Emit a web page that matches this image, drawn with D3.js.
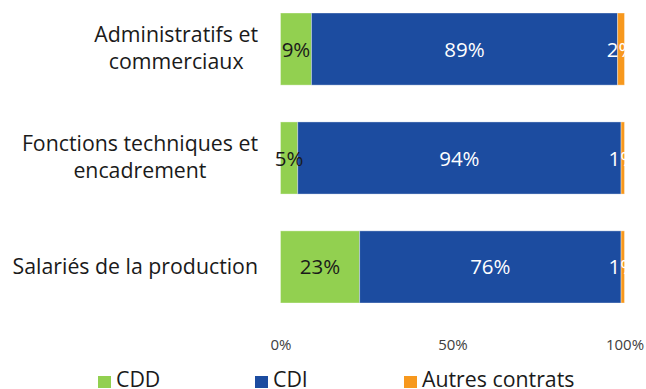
<!DOCTYPE html>
<html>
<head>
<meta charset="utf-8">
<script src="https://cdn.jsdelivr.net/npm/d3@7"></script>
<style>
  html, body { margin: 0; padding: 0; background: #fff; }
  svg { display: block; font-family: "Open Sans", "Noto Sans", sans-serif; }
</style>
</head>
<body>
<svg id="chart" width="646" height="389"></svg>
<script>
// Répartition des contrats par catégorie de salariés (%)
const categories = [
  ["Administratifs et", "commerciaux"],
  ["Fonctions techniques et", "encadrement"],
  ["Salariés de la production"]
];
const seriesNames = ["CDD", "CDI", "Autres contrats"];
const cdd = [9, 5, 23];
const cdi = [89, 94, 76];
const autres = [2, 1, 1];
const tickValues = [0, 50, 100];

const colors = ["#92d050", "#1c4ca0", "#f7981d"];
const labelColors = ["#1a1a1a", "#ffffff", "#ffffff"];

const svg = d3.select("#chart");
const catKeys = categories.map(c => c.join(" "));

const rows = catKeys.map((k, i) => ({ key: k, CDD: cdd[i], CDI: cdi[i], "Autres contrats": autres[i] }));
const stacked = d3.stack().keys(seriesNames)(rows);

const x = d3.scaleLinear().domain([0, 100]).range([280.5, 624.5]);
const y = d3.scaleBand().domain(catKeys).range([-5.4, 321.4])
  .paddingInner(0.338).paddingOuter(0.169);

// clip for the plot area (labels are cut at its right edge)
svg.append("defs").append("clipPath").attr("id", "plot")
  .append("rect").attr("x", 0).attr("y", 0).attr("width", 625).attr("height", 330);

const plot = svg.append("g").attr("clip-path", "url(#plot)");

stacked.forEach((s, si) => {
  const g = plot.append("g");
  g.selectAll("rect").data(s).join("rect")
    .attr("x", d => x(d[0]))
    .attr("y", d => y(d.data.key))
    .attr("width", d => x(d[1]) - x(d[0]))
    .attr("height", y.bandwidth())
    .attr("fill", colors[si])
    .attr("stroke", "rgba(255,255,255,0.35)")
    .attr("stroke-width", 1);
});

stacked.forEach((s, si) => {
  plot.append("g").selectAll("text").data(s).join("text")
    .attr("x", d => (x(d[0]) + x(d[1])) / 2)
    .attr("y", d => y(d.data.key) + y.bandwidth() / 2 + 7.5)
    .attr("text-anchor", "middle")
    .attr("font-size", 20.5)
    .attr("fill", labelColors[si])
    .text(d => (d[1] - d[0]) + "%");
});

// category labels: block right-aligned, lines centred within the block
const catG = svg.append("g").attr("font-size", 21.3).attr("fill", "#1a1a1a");
categories.forEach((lines, i) => {
  const cy = y(catKeys[i]) + y.bandwidth() / 2;
  const g = catG.append("g");
  const texts = lines.map((ln, li) => g.append("text")
    .attr("text-anchor", "middle")
    .attr("y", lines.length === 1 ? cy + 7.5 : cy - 7.5 + li * 27.5)
    .text(ln));
  const maxW = d3.max(texts, t => t.node().getComputedTextLength());
  texts.forEach(t => t.attr("x", 258 - maxW / 2));
});

// x axis
const axis = d3.axisBottom(x).tickValues(tickValues).tickSize(0)
  .tickFormat(d => d + "%");
const ax = svg.append("g").attr("transform", "translate(0,336)").call(axis);
ax.select(".domain").remove();
ax.selectAll("text").attr("font-size", 15).attr("fill", "#404040")
  .attr("font-family", "\"Open Sans\", \"Noto Sans\", sans-serif");

// legend
const legendX = [98, 255, 404];
const leg = svg.append("g");
seriesNames.forEach((name, i) => {
  leg.append("rect").attr("x", legendX[i]).attr("y", 376)
    .attr("width", 13).attr("height", 12).attr("fill", colors[i]);
  leg.append("text").attr("x", legendX[i] + 18).attr("y", 387)
    .attr("font-size", 21.3).attr("fill", "#1a1a1a").text(name);
});
</script>
</body>
</html>
